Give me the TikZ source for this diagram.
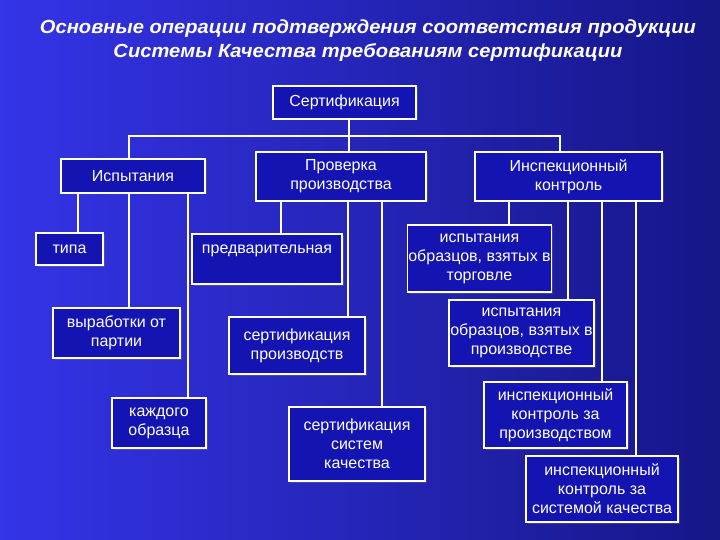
\documentclass[tikz,border=0pt]{standalone}
\usepackage{fontspec}
\setmainfont{Liberation Sans}
\newfontfamily\titlefont[FakeStretch=1.06]{Liberation Sans}
\usetikzlibrary{shadows}
\definecolor{bgbright}{RGB}{52,52,232}
\definecolor{bgmid}{RGB}{36,36,196}
\definecolor{bgdark}{RGB}{22,22,136}
\definecolor{boxfill}{RGB}{20,20,178}
\tikzset{
  opbox/.style={draw=white,line width=1.6pt,fill=boxfill,text=white,align=center,
    inner sep=1pt,font=\fontsize{16}{19}\selectfont,
    drop shadow={opacity=0.35,shadow xshift=1.5pt,shadow yshift=-1.5pt}},
  link/.style={draw=white,line width=1.6pt}
}

\begin{document}
\begin{tikzpicture}[x=1pt,y=-1pt]

% Background
\shade[left color=bgbright,middle color=bgmid,right color=bgdark] (0,0) rectangle (720,540);
\useasboundingbox (0,0) rectangle (720,540);

% Title
\node[text=white,align=center,font=\titlefont\bfseries\itshape\fontsize{19}{24}\selectfont]
  (title) at (368,41) {Основные операции подтверждения соответствия продукции\\
  Системы Качества требованиям сертификации};

% Root and first level
\node[opbox,minimum width=143pt,minimum height=33pt] (sert) at (344.5,102.5) {Сертификация};
\node[opbox,minimum width=144pt,minimum height=34pt] (ispyt) at (133,176) {Испытания};
\node[opbox,minimum width=170pt,minimum height=49pt] (prov) at (341,176.5) {Проверка\\производства};
\node[opbox,minimum width=187pt,minimum height=49pt] (insp) at (568.5,176.5) {Инспекционный\\контроль};

% Testing branch
\node[opbox,minimum width=67pt,minimum height=32pt] (tipa) at (69.5,249) {типа};
\node[opbox,minimum width=127pt,minimum height=50pt] (vyrab) at (116.5,333) {выработки от\\партии};
\node[opbox,minimum width=94pt,minimum height=50pt] (kazhd) at (159,423) {каждого\\образца};

% Production check branch
\node[opbox,minimum width=150pt,minimum height=50pt] (predv) at (267,259) {предварительная\\\mbox{}};
\node[opbox,minimum width=136pt,minimum height=57pt] (sertpr) at (297,345.5) {сертификация\\производств};
\node[opbox,minimum width=136pt,minimum height=74pt] (sertsk) at (357,444) {сертификация\\систем\\качества};

% Inspection branch
\node[opbox,minimum width=143pt,minimum height=67pt] (isptorg) at (479.5,258.5) {испытания\\образцов, взятых в\\торговле};
\node[opbox,minimum width=145pt,minimum height=66pt] (ispproizv) at (521.5,333) {испытания\\образцов, взятых в\\производстве};
\node[opbox,minimum width=143pt,minimum height=66pt] (inspproizv) at (555.5,415) {инспекционный\\контроль за\\производством};
\node[opbox,minimum width=152pt,minimum height=66pt] (inspsk) at (602,489) {инспекционный\\контроль за\\системой качества};

% Bus under the root
\coordinate (bus) at (349,136);
\draw[link] (ispyt.north -| 129,0) |- (bus) -| (insp.north -| 560,0);

% Drops from parent to child
\foreach \p/\c/\x in {sert/prov/349,
  ispyt/tipa/78,ispyt/vyrab/129,ispyt/kazhd/188,
  prov/predv/281,prov/sertpr/348,prov/sertsk/382,
  insp/isptorg/509,insp/ispproizv/568,insp/inspproizv/602,insp/inspsk/636}
{
  \draw[link] (\p.south -| \x,0) -- (\c.north -| \x,0);
}

\end{tikzpicture}
\end{document}
